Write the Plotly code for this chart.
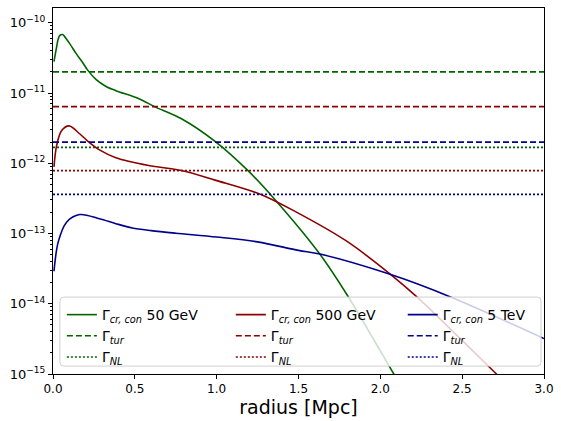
import plotly.graph_objects as go

# ---------------- data ----------------
R_RANGE = [0.0, 3.0]

r_50gev = [0.006, 0.022, 0.032, 0.042, 0.058, 0.07, 0.103, 0.143, 0.183, 0.213, 0.264,
           0.324, 0.384, 0.525, 0.62, 0.785, 0.99, 1.19, 1.35, 1.63, 1.80, 2.08, 2.10]
g_50gev = [2.8e-11, 4.5e-11, 5.9e-11, 6.6e-11, 6.8e-11, 6.4e-11, 5.0e-11, 3.6e-11,
           2.68e-11, 2.1e-11, 1.55e-11, 1.24e-11, 1.08e-11, 8.3e-12, 6.4e-12, 4.3e-12,
           2.05e-12, 7.9e-13, 3.15e-13, 5.1e-14, 1.3e-14, 1.02e-15, 8.5e-16]

r_500gev = [0.006, 0.022, 0.052, 0.098, 0.163, 0.21, 0.284, 0.384, 0.585, 0.785, 0.99,
            1.27, 1.49, 1.79, 2.064, 2.225, 2.476, 2.70, 2.75]
g_500gev = [8.9e-13, 1.78e-12, 2.9e-12, 3.4e-12, 2.63e-12, 2.09e-12, 1.55e-12, 1.2e-12,
            9.3e-13, 7.9e-13, 5.75e-13, 3.6e-13, 2.0e-13, 7.9e-14, 2.6e-14,
            1.24e-14, 3.4e-15, 1.05e-15, 8.1e-16]

r_5tev = [0.006, 0.032, 0.083, 0.163, 0.284, 0.384, 0.484, 0.6, 0.75, 1.0, 1.25, 1.5,
          1.63, 2.064, 2.436, 3.0]
g_5tev = [2.9e-14, 7.6e-14, 1.45e-13, 1.86e-13, 1.62e-13, 1.38e-13, 1.2e-13, 1.1e-13,
          1.01e-13, 8.9e-14, 7.6e-14, 5.75e-14, 5.1e-14, 2.6e-14, 1.23e-14, 3.2e-15]

tur_levels = {"50 GeV": 2.0e-11, "500 GeV": 6.4e-12, "5 TeV": 2.0e-12}
nl_levels = {"50 GeV": 1.68e-12, "500 GeV": 7.85e-13, "5 TeV": 3.6e-13}

energies = ["50 GeV", "500 GeV", "5 TeV"]
colors = {"50 GeV": "#006400", "500 GeV": "#8b0000", "5 TeV": "#00008b"}
curves = {"50 GeV": (r_50gev, g_50gev), "500 GeV": (r_500gev, g_500gev),
          "5 TeV": (r_5tev, g_5tev)}

x_ticks = [0.0, 0.5, 1.0, 1.5, 2.0, 2.5, 3.0]
y_exps = [-15, -14, -13, -12, -11, -10]
y_ticks = [10.0 ** e for e in y_exps]
y_ticktext = ["10<sup>\u2212%d</sup>" % (-e) for e in y_exps]
y_minor = [m * 10.0 ** e for e in y_exps for m in range(2, 10)]

# ---------------- layout geometry ----------------
W, H = 561, 421
ML, MR, MT, MB = 53, 11, 7, 43
PW, PH = W - ML - MR, H - MT - MB


def px2paper_x(px):
    return (px - ML) / PW


def px2paper_y(py):
    return (H - MB - py) / PH


legend_names = ["legend", "legend2", "legend3"]
legend_left_px = [62, 233, 407]

# ---------------- figure ----------------
fig = go.Figure()

for i, en in enumerate(energies):
    x, y = curves[en]
    lg = legend_names[i]
    fig.add_trace(go.Scatter(
        x=x, y=y, mode="lines", legend=lg,
        line=dict(color=colors[en], width=1.6, shape="spline", smoothing=0.9),
        name="\u0393<sub><i>cr, con</i></sub> " + en))
    fig.add_trace(go.Scatter(
        x=R_RANGE, y=[tur_levels[en]] * 2, mode="lines", legend=lg,
        line=dict(color=colors[en], width=1.6, dash="6px,3px"),
        name="\u0393<sub><i>tur</i></sub>"))
    fig.add_trace(go.Scatter(
        x=R_RANGE, y=[nl_levels[en]] * 2, mode="lines", legend=lg,
        line=dict(color=colors[en], width=1.6, dash="2px,2px"),
        name="\u0393<sub><i>NL</i></sub>"))

# legend frame (rounded rectangle, semi-transparent white)
bx0, bx1, by0, by1, rr = 60, 547, 300, 370, 4
path = (
    f"M {px2paper_x(bx0 + rr)},{px2paper_y(by0)} "
    f"L {px2paper_x(bx1 - rr)},{px2paper_y(by0)} "
    f"Q {px2paper_x(bx1)},{px2paper_y(by0)} {px2paper_x(bx1)},{px2paper_y(by0 + rr)} "
    f"L {px2paper_x(bx1)},{px2paper_y(by1 - rr)} "
    f"Q {px2paper_x(bx1)},{px2paper_y(by1)} {px2paper_x(bx1 - rr)},{px2paper_y(by1)} "
    f"L {px2paper_x(bx0 + rr)},{px2paper_y(by1)} "
    f"Q {px2paper_x(bx0)},{px2paper_y(by1)} {px2paper_x(bx0)},{px2paper_y(by1 - rr)} "
    f"L {px2paper_x(bx0)},{px2paper_y(by0 + rr)} "
    f"Q {px2paper_x(bx0)},{px2paper_y(by0)} {px2paper_x(bx0 + rr)},{px2paper_y(by0)} Z"
)
fig.add_shape(type="path", path=path, xref="paper", yref="paper", layer="above",
              fillcolor="rgba(255,255,255,0.8)", line=dict(color="#d0d0d0", width=1))

legend_common = dict(
    orientation="v", yanchor="top", y=px2paper_y(302), xanchor="left",
    bgcolor="rgba(0,0,0,0)", borderwidth=0,
    font=dict(size=14, family="DejaVu Sans"), itemwidth=30, traceorder="normal",
)

fig.update_layout(
    width=W, height=H,
    margin=dict(l=ML, r=MR, t=MT, b=MB),
    paper_bgcolor="white", plot_bgcolor="white",
    font=dict(family="DejaVu Sans", color="black", size=12),
    showlegend=True,
    legend=dict(x=px2paper_x(legend_left_px[0]), **legend_common),
    legend2=dict(x=px2paper_x(legend_left_px[1]), **legend_common),
    legend3=dict(x=px2paper_x(legend_left_px[2]), **legend_common),
    xaxis=dict(
        range=R_RANGE, tickvals=x_ticks, tickformat=".1f",
        showgrid=False, zeroline=False, showline=True, mirror=True,
        linecolor="black", linewidth=1, ticks="outside", ticklen=4, tickcolor="black",
        title=dict(text="radius [Mpc]", font=dict(size=19), standoff=4),
        tickfont=dict(size=12),
    ),
    yaxis=dict(
        type="log", range=[-15, -9.79], tickvals=y_ticks, ticktext=y_ticktext,
        showgrid=False, zeroline=False, showline=True, mirror=True,
        linecolor="black", linewidth=1, ticks="outside", ticklen=4, tickcolor="black",
        tickfont=dict(size=13),
        minor=dict(tickmode="array", tickvals=y_minor, ticks="outside", ticklen=2,
                   tickcolor="black", showgrid=False),
    ),
)

fig.write_html("out.html")
